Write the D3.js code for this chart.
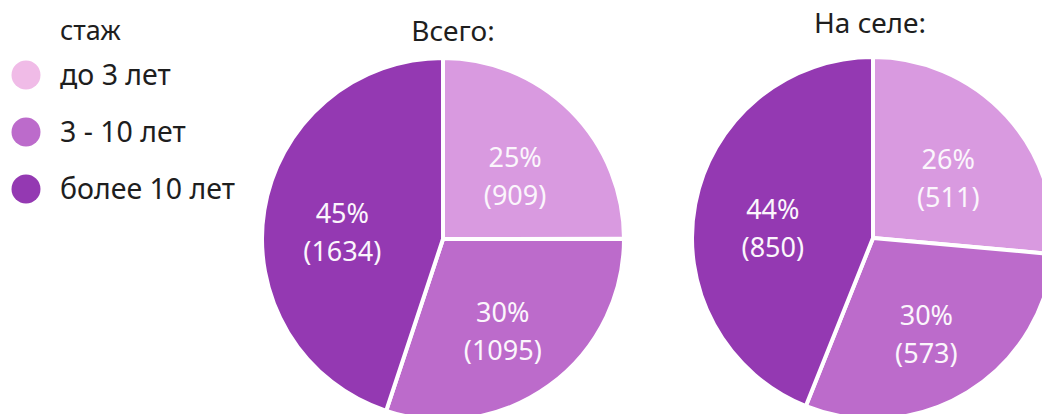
<!DOCTYPE html>
<html><head><meta charset="utf-8">
<script src="https://cdn.jsdelivr.net/npm/d3@7"></script>
<style>body{margin:0;background:#fff}svg{display:block}text{font-family:"Noto Sans",sans-serif}</style>
</head><body>
<svg id="c" width="1042" height="414"></svg>
<script>
const categories = ["до 3 лет", "3 - 10 лет", "более 10 лет"];
const legendTitle = "стаж";
const titles = ["Всего:", "На селе:"];
const valuesTotal = [909, 1095, 1634];
const valuesVillage = [511, 573, 850];
const sliceColors = ["#D99AE0", "#BC6BCB", "#9439B2"];
const legendColors = ["#F0BBE7", "#BC6BCB", "#9439B2"];

const svg = d3.select("#c");
const pies = [
  {title: titles[0], values: valuesTotal, cx: 443, cy: 239, tx: 453, ty: 41},
  {title: titles[1], values: valuesVillage, cx: 873, cy: 238, tx: 870, ty: 33}
];
const R = 181;
const pie = d3.pie().sort(null).value(d => d);
const arc = d3.arc().innerRadius(0).outerRadius(R);
const labelArc = d3.arc().innerRadius(102).outerRadius(102);
const color = d3.scaleOrdinal().domain(categories).range(sliceColors);
const lcolor = d3.scaleOrdinal().domain(categories).range(legendColors);

pies.forEach(p => {
  const total = d3.sum(p.values);
  const g = svg.append("g").attr("transform", `translate(${p.cx},${p.cy})`);
  const arcs = pie(p.values);
  g.selectAll("path").data(arcs).join("path")
    .attr("d", arc).attr("fill", (d, i) => color(categories[i]))
    .attr("stroke", "#fff").attr("stroke-width", 4).attr("stroke-linejoin", "round");
  const lbl = g.selectAll("g.l").data(arcs).join("g").attr("class", "l")
    .attr("transform", d => `translate(${labelArc.centroid(d)})`);
  lbl.append("text").attr("text-anchor", "middle").attr("y", 0)
    .attr("fill", "#fbf6fc").attr("font-size", 27)
    .text(d => Math.round(d.data / total * 100) + "%");
  lbl.append("text").attr("text-anchor", "middle").attr("y", 38)
    .attr("fill", "#fbf6fc").attr("font-size", 27)
    .text(d => "(" + d.data + ")");
  svg.append("text").attr("x", p.tx).attr("y", p.ty).attr("text-anchor", "middle")
    .attr("fill", "#1e1e1e").attr("font-size", 28).text(p.title);
});

// legend
const lg = svg.append("g");
lg.append("text").attr("x", 60).attr("y", 40).attr("font-size", 27).attr("fill", "#1e1e1e").text(legendTitle);
const ly = d3.scalePoint().domain(categories).range([75, 189]);
categories.forEach(c => {
  lg.append("circle").attr("cx", 26).attr("cy", ly(c)).attr("r", 14.5).attr("fill", lcolor(c));
  lg.append("text").attr("x", 60).attr("y", ly(c)).attr("dy", "0.35em").attr("font-size", 28.5)
    .attr("fill", "#1e1e1e").text(c);
});
</script>
</body></html>
